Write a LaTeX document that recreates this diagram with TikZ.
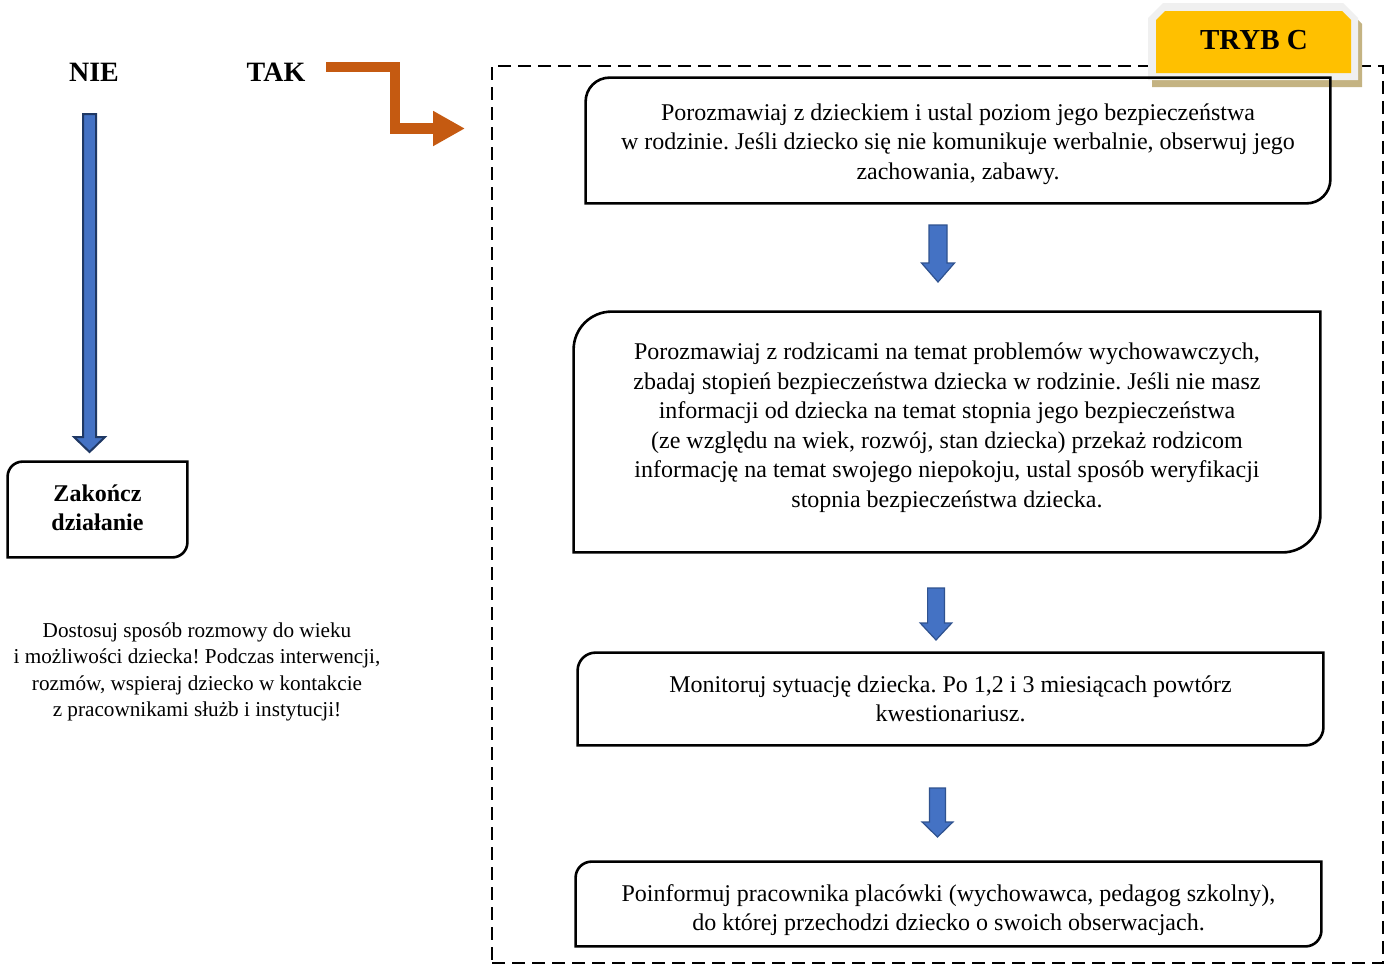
\documentclass[tikz,border=0pt]{standalone}
\usepackage{fontspec}
\setmainfont{Liberation Serif}
\usetikzlibrary{arrows.meta,calc}
\frenchspacing
\definecolor{arrblue}{HTML}{4472C4}
\definecolor{arrnavy}{HTML}{1F3864}
\definecolor{arredge}{HTML}{2F528F}
\definecolor{orangeA}{HTML}{C55A11}
\definecolor{goldA}{HTML}{FFC000}
\definecolor{lightg}{HTML}{F0F0F0}
\definecolor{tanA}{HTML}{C4B382}
\tikzset{
  boxline/.style={line width=1.3pt, black},
  stepbox/.style={inner sep=0pt, align=center, font=\fontsize{12}{14.75}\selectfont},
  headtext/.style={inner sep=0pt, font=\fontsize{14}{16}\selectfont\bfseries},
  bigblue/.style={fill=arrblue, draw=arrnavy, line width=1pt, line join=miter},
  smallblue/.style={fill=arrblue, draw=arredge, line width=0.6pt, line join=miter},
}
\newcommand\diagframe[2]{%
  \draw[boxline] let \p1=(#1.north west), \p2=(#1.south east) in
    (\x1,\y2) -- (\x1,\y1-#2) .. controls (\x1,\y1-0.448*#2) and (\x1+0.448*#2,\y1) .. (\x1+#2,\y1)
    -- (\x2,\y1) -- (\x2,\y2+#2) .. controls (\x2,\y2+0.448*#2) and (\x2-0.448*#2,\y2) .. (\x2-#2,\y2) -- cycle;}
\newcommand\blockarrow[6]{%
  \draw[#6] let \p1=(#1), \p2=(#2) in
    (\x1-#3,\y1) -- (\x1+#3,\y1) -- (\x1+#3,\y2+#5) -- (\x1+#4,\y2+#5) -- (\x1,\y2)
    -- (\x1-#4,\y2+#5) -- (\x1-#3,\y2+#5) -- cycle;}
\begin{document}
\begin{tikzpicture}[x=0.5pt,y=-0.5pt]
\fill[white] (0,0) rectangle (1392,965);
\useasboundingbox (0,0) rectangle (1392,965);

% dashed frame
\node[draw, dashed, dash pattern=on 6.5pt off 3.5pt, line width=0.9pt, minimum width=445.5pt, minimum height=448.5pt, inner sep=0pt] (frame) at (937.5,514.5) {};

% TRYB C label
\fill[tanA] (1152,87) -- (1152,24) -- (1167,10) -- (1348,10) -- (1362,24) -- (1362,87) -- cycle;
\fill[lightg] (1148,80) -- (1148,18) -- (1163,3) -- (1343,3) -- (1358,18) -- (1358,80) -- cycle;
\fill[goldA] (1156,73) -- (1156,20) -- (1165,11) -- (1342,11) -- (1351,20) -- (1351,73) -- cycle;
\node[headtext, font=\fontsize{14.5}{16}\selectfont\bfseries] (tryb) at (1254,40) {TRYB C};

% left side
\node[headtext] (nie) at (94,72) {NIE};
\node[headtext] (tak) at (276,72) {TAK};

\node[stepbox, font=\fontsize{12}{14.5}\selectfont\bfseries, minimum width=89.5pt, minimum height=47.5pt] (zak) at (97.5,509.5) {Zakończ\\działanie\rule[-2pt]{0pt}{2pt}};
\diagframe{zak}{7.5pt}

\node[inner sep=0pt, align=center, font=\fontsize{10.6}{13.3}\selectfont] (note) at (197,672)
 {Dostosuj sposób rozmowy do wieku\\i możliwości dziecka! Podczas interwencji,\\rozmów, wspieraj dziecko w kontakcie\\z pracownikami służb i instytucji!};

\coordinate (nieA) at (89.5,114);
\coordinate (nieB) at (89.5,452);
\blockarrow{nieA}{nieB}{3.25pt}{7.75pt}{7.5pt}{bigblue}

% orange elbow arrow
\coordinate (takA) at (326,67);
\coordinate (takB) at (395,67);
\coordinate (takC) at (395,128.5);
\coordinate (takD) at (465,128.5);
\draw[orangeA, line width=5.25pt, line join=miter, -{Triangle[length=16pt,width=16.5pt]}] (takA) -- (takB) -- (takC) -- (takD);

% step boxes
\node[stepbox, minimum width=372pt, minimum height=62.5pt] (b1) at (958,140.5)
 {\rule{0pt}{12pt}Porozmawiaj z dzieckiem i ustal poziom jego bezpieczeństwa\\w rodzinie. Jeśli dziecko się nie komunikuje werbalnie, obserwuj jego\\zachowania, zabawy.};
\diagframe{b1}{12pt}

\node[stepbox, minimum width=373pt, minimum height=120pt] (b2) at (947,432)
 {Porozmawiaj z rodzicami na temat problemów wychowawczych,\\zbadaj stopień bezpieczeństwa dziecka w rodzinie. Jeśli nie masz\\informacji od dziecka na temat stopnia jego bezpieczeństwa\\(ze względu na wiek, rozwój, stan dziecka) przekaż rodzicom\\informację na temat swojego niepokoju, ustal sposób weryfikacji\\stopnia bezpieczeństwa dziecka.\rule[-7pt]{0pt}{7pt}};
\diagframe{b2}{19pt}

\node[stepbox, minimum width=372.5pt, minimum height=46pt] (b3) at (950.5,699)
 {Monitoruj sytuację dziecka. Po 1,2 i 3 miesiącach powtórz\\kwestionariusz.};
\diagframe{b3}{9pt}

\node[stepbox, minimum width=372.5pt, minimum height=42pt] (b4) at (948.5,904)
 {\rule{0pt}{14.5pt}Poinformuj pracownika placówki (wychowawca, pedagog szkolny),\\do której przechodzi dziecko o swoich obserwacjach.};
\diagframe{b4}{8pt}

% blue step arrows
\coordinate (a1s) at (938,225);
\coordinate (a1e) at (938,282);
\blockarrow{a1s}{a1e}{4.5pt}{8.25pt}{9.5pt}{smallblue}
\coordinate (a2s) at (936,588);
\coordinate (a2e) at (936,640);
\blockarrow{a2s}{a2e}{4.2pt}{7.9pt}{8.5pt}{smallblue}
\coordinate (a3s) at (937.5,788);
\coordinate (a3e) at (937.5,837);
\blockarrow{a3s}{a3e}{4pt}{7.7pt}{7.5pt}{smallblue}
\end{tikzpicture}
\end{document}
